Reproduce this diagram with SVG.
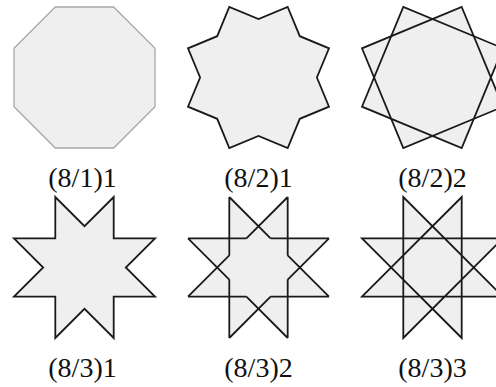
<svg xmlns="http://www.w3.org/2000/svg" width="496" height="387" viewBox="0 0 496 387">
<style>
.bg{fill:#ffffff}
.sh{fill:#efefef;stroke:#1a1a1a;stroke-width:1.8;stroke-linejoin:miter}
.oct{fill:#efefef;stroke:#a8a8a8;stroke-width:1.3}
.fillonly{fill:#efefef;stroke:none}
.ln{fill:none;stroke:#1a1a1a;stroke-width:1.8;stroke-linecap:butt}
.lbl{font-family:"Liberation Serif","Times New Roman",serif;font-size:28px;fill:#111;text-anchor:middle}
</style>
<rect class="bg" x="0" y="0" width="496" height="387"/>
<g id="n81" transform="translate(84.5,77.5)">
<polygon class="oct" points="29.2,-70.5 70.5,-29.2 70.5,29.2 29.2,70.5 -29.2,70.5 -70.5,29.2 -70.5,-29.2 -29.2,-70.5"/>
<text class="lbl" x="-2" y="109">(8/1)1</text>
</g>
<g id="n821" transform="translate(258.5,77.5)">
<polygon class="sh" points="29.2,-70.5 41.3,-41.3 70.5,-29.2 58.4,0 70.5,29.2 41.3,41.3 29.2,70.5 0,58.4 -29.2,70.5 -41.3,41.3 -70.5,29.2 -58.4,0 -70.5,-29.2 -41.3,-41.3 -29.2,-70.5 0,-58.4"/>
<text class="lbl" x="0" y="109">(8/2)1</text>
</g>
<g id="n822" transform="translate(432.5,77.5)">
<polygon class="fillonly" points="29.2,-70.5 41.3,-41.3 70.5,-29.2 58.4,0 70.5,29.2 41.3,41.3 29.2,70.5 0,58.4 -29.2,70.5 -41.3,41.3 -70.5,29.2 -58.4,0 -70.5,-29.2 -41.3,-41.3 -29.2,-70.5 0,-58.4"/>
<polygon class="ln" points="29.2,-70.5 70.5,29.2 -29.2,70.5 -70.5,-29.2"/>
<polygon class="ln" points="70.5,-29.2 29.2,70.5 -70.5,29.2 -29.2,-70.5"/>
<text class="lbl" x="0" y="109">(8/2)2</text>
</g>
<g id="n831" transform="translate(84.5,267.5)">
<polygon class="sh" points="29.2,-70.5 29.2,-29.2 70.5,-29.2 41.3,0 70.5,29.2 29.2,29.2 29.2,70.5 0,41.3 -29.2,70.5 -29.2,29.2 -70.5,29.2 -41.3,0 -70.5,-29.2 -29.2,-29.2 -29.2,-70.5 0,-41.3"/>
<text class="lbl" x="-2" y="109">(8/3)1</text>
</g>
<g id="n832" transform="translate(258.5,267.5)">
<polygon class="fillonly" points="29.2,-70.5 29.2,-29.2 70.5,-29.2 41.3,0 70.5,29.2 29.2,29.2 29.2,70.5 0,41.3 -29.2,70.5 -29.2,29.2 -70.5,29.2 -41.3,0 -70.5,-29.2 -29.2,-29.2 -29.2,-70.5 0,-41.3"/>
<path class="ln" d="M29.2,-70.5V-12.1M29.2,12.1V70.5M-29.2,-70.5V-12.1M-29.2,12.1V70.5M-70.5,-29.2H-12.1M12.1,-29.2H70.5M-70.5,29.2H-12.1M12.1,29.2H70.5M29.2,-70.5L-12.1,-29.2M-29.2,-12.1L-70.5,29.2M70.5,-29.2L29.2,12.1M12.1,29.2L-29.2,70.5M-29.2,-70.5L12.1,-29.2M29.2,-12.1L70.5,29.2M-70.5,-29.2L-29.2,12.1M-12.1,29.2L29.2,70.5"/>
<text class="lbl" x="0" y="109">(8/3)2</text>
</g>
<g id="n833" transform="translate(432.5,267.5)">
<polygon class="fillonly" points="29.2,-70.5 29.2,-29.2 70.5,-29.2 41.3,0 70.5,29.2 29.2,29.2 29.2,70.5 0,41.3 -29.2,70.5 -29.2,29.2 -70.5,29.2 -41.3,0 -70.5,-29.2 -29.2,-29.2 -29.2,-70.5 0,-41.3"/>
<polygon class="ln" points="29.2,-70.5 29.2,70.5 -70.5,-29.2 70.5,-29.2 -29.2,70.5 -29.2,-70.5 70.5,29.2 -70.5,29.2 29.2,-70.5"/>
<text class="lbl" x="0" y="109">(8/3)3</text>
</g>
</svg>
